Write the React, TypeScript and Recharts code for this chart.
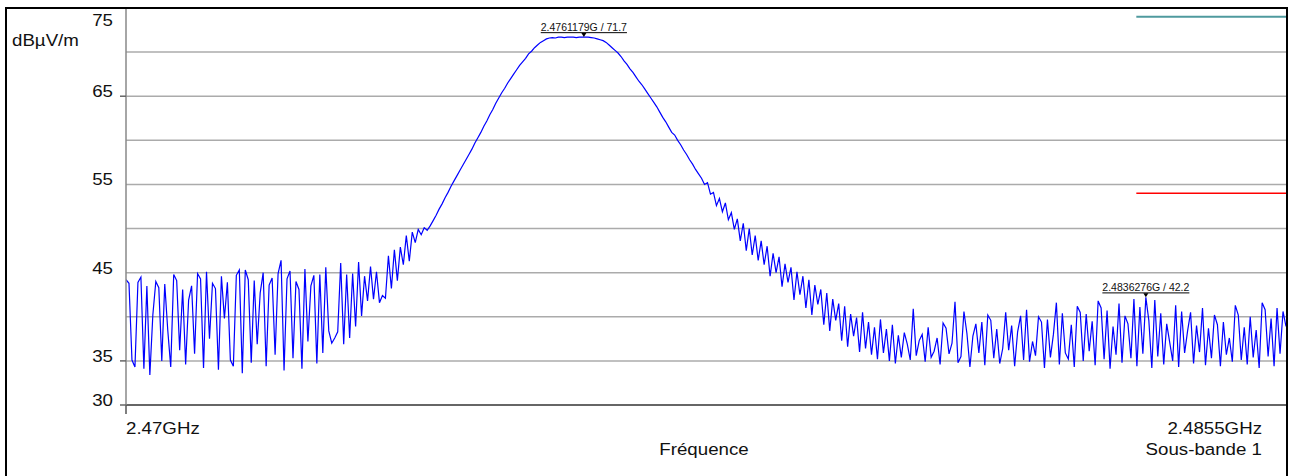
import React from 'react';
import {
  LineChart,
  Line,
  XAxis,
  YAxis,
  CartesianGrid,
  ReferenceLine,
  ReferenceDot
} from 'recharts';

// sweep 2.47 .. 2.4855 GHz, one level per trace point (dBµV/m)
const SWEEP_START = 2.47;
const SWEEP_STOP = 2.4855;

const floorLow = [
  44.2, 43.8, 35.1, 34.3, 43.9, 44.5, 34.1, 43.5, 33.4, 40.2, 44.0, 43.3, 35.0, 43.7, 38.5, 34.3, 44.8, 44.1, 36.2, 43.1,
  34.6, 41.9, 43.5, 35.8, 44.9, 44.3, 34.2, 45.1, 37.5, 43.8, 43.2, 34.0, 44.6, 39.8, 43.9, 35.1, 34.4, 44.7, 45.3, 33.6,
  45.3, 44.2, 34.8, 44.1, 36.9, 42.7, 45.0, 34.4, 43.6, 44.4, 35.7, 44.9, 46.4, 33.9, 44.3, 45.2, 35.3, 44.0, 43.1, 34.1,
  45.4, 37.2, 43.5, 44.7, 34.7, 44.8, 35.9, 45.6, 38.4, 37.0, 37.6, 38.3
];

const shoulderLeft = [
  46.1, 36.9, 44.8, 37.6, 44.9, 38.9, 46.2, 40.1, 44.6, 41.8, 45.7, 42.0, 45.1, 41.6, 42.4, 42.1,
  46.9, 43.2, 47.6, 44.1, 47.9, 45.9, 49.2, 46.3, 49.6, 48.4, 49.9, 49.3, 50.1, 49.8
];

const mainLobe = [
  50.3, 50.9, 51.5, 52.2, 52.8, 53.5, 54.1, 54.8, 55.4, 56.0, 56.6, 57.2, 57.8, 58.4, 59.0, 59.7, 60.3, 60.9, 61.6, 62.2,
  62.9, 63.5, 64.2, 64.8, 65.4, 65.9, 66.5, 67.0, 67.5, 68.0, 68.5, 68.9, 69.3, 69.8, 70.1, 70.5, 70.8, 71.1, 71.3, 71.5,
  71.6, 71.65, 71.6, 71.7, 71.7, 71.65, 71.7, 71.7, 71.7, 71.65, 71.7, 71.7, 71.7, 71.7, 71.65, 71.6, 71.5, 71.4,
  71.3, 71.1, 70.8, 70.5, 70.2, 69.9, 69.5, 69.0, 68.6, 68.1, 67.7, 67.2, 66.7, 66.3, 65.8, 65.3, 64.8, 64.3, 63.8, 63.2,
  62.6, 62.1, 61.5, 60.9, 60.6, 60.0, 59.5, 58.9, 58.4, 57.8, 57.3, 56.7, 56.2, 55.7, 55.0
];

const shoulderRight = [
  55.2, 53.9, 54.1, 52.6, 53.4, 51.9, 52.9, 51.0, 51.8, 49.9,
  51.1, 48.6, 50.6, 47.5, 50.0, 47.0, 49.2, 46.4, 48.6, 45.9,
  48.0, 44.6, 47.2, 45.0, 46.8, 43.4, 46.0, 43.9, 45.6, 41.9,
  45.1, 42.5, 44.6, 41.0, 44.2, 40.2, 43.6, 41.4, 43.1, 39.1,
  42.7, 38.4, 42.0, 39.6, 41.5, 37.3, 41.2, 36.6, 40.3, 37.8,
  39.9, 36.0, 40.5, 36.4, 39.4, 35.7, 38.8, 35.2, 39.7, 35.9,
  38.6, 35.0, 39.1, 34.7, 37.9, 35.4
];

const floorHigh = [
  38.2, 36.9, 35.1, 40.9, 35.6, 37.3, 38.0, 34.9, 38.8, 35.4, 36.1, 37.6, 34.6, 39.3, 38.7, 35.8, 37.0, 41.7, 34.8, 35.5,
  40.6, 38.1, 34.3, 37.8, 39.2, 35.9, 39.4, 34.5, 40.2, 39.6, 35.3, 38.6, 34.7, 36.4, 40.5, 36.2, 39.0, 34.4, 38.3, 40.1,
  35.1, 40.8, 34.9, 37.2, 35.6, 40.0, 39.4, 34.2, 39.7, 35.4, 38.0, 41.6, 34.6, 40.4, 35.9, 35.2, 39.1, 34.3, 41.2, 40.5,
  35.0, 40.3, 36.1, 39.5, 34.5, 41.8, 41.0, 35.2, 40.7, 34.1, 38.9, 35.7, 41.5, 34.8, 40.1, 39.2, 35.3, 42.0, 34.4, 41.1,
  35.8, 42.2, 39.6, 34.2, 41.9, 35.5, 40.4, 34.6, 39.2, 37.1, 35.0, 41.3, 34.3, 40.6, 35.9, 38.4, 40.5, 34.7, 39.0, 36.0,
  41.0, 34.5, 38.7, 35.3, 40.2, 39.1, 34.4, 39.4, 35.7, 37.6, 34.9, 41.3, 40.2, 35.1, 38.8, 34.6, 40.0, 35.4, 38.5, 34.2,
  41.6, 40.8, 35.5, 39.8, 34.4, 41.0, 35.8, 40.6, 38.9
];

const Y_TICKS = [30, 35, 40, 45, 50, 55, 60, 65, 70, 75];
const Y_LABELS = [75, 65, 55, 45, 35, 30];
const Y_TICK_MARKS = [65, 35, 30];
const X_TICKS = [2.47, 2.4855];
const X_TICK_LABELS = ['2.47GHz', '2.4855GHz'];

const MARKER_FREQS = [2.4761179, 2.4836276];
const MARKER_LEVELS = [71.7, 42.2];

// limit lines over the restricted band above 2483.5 MHz
const LIMIT_START = 2.4835;
const LIMIT_LEVELS = [74, 54];

const levels = [...floorLow, ...shoulderLeft, ...mainLobe, ...shoulderRight, ...floorHigh];
const data = levels.map((level, i) => ({
  freq: SWEEP_START + (i * (SWEEP_STOP - SWEEP_START)) / (levels.length - 1),
  level
}));

const FONT = '"Liberation Sans", Arial, sans-serif';

// the analyser font is a little wider than Arial
const Txt = ({ x, y, anchor = 'start', children }: any) => (
  <text
    transform={`translate(${x},${y}) scale(1.1,1)`}
    textAnchor={anchor}
    fontFamily={FONT}
    fontSize={17}
    fill="#111"
  >
    {children}
  </text>
);

const YTick = (props: any) => {
  const { x, y, payload } = props;
  const v = payload.value;
  const ty = v === 75 ? y + 17 : y + 1;
  return (
    <g>
      {Y_TICK_MARKS.includes(v) && <line x1={x - 6} x2={x} y1={y} y2={y} stroke="#666" strokeWidth={1.5} />}
      {Y_LABELS.includes(v) && (
        <Txt x={x - 13} y={ty} anchor="end">
          {v}
        </Txt>
      )}
    </g>
  );
};

const XTick = (props: any) => {
  const { x, y, index } = props;
  if (index === 0) {
    return (
      <g>
        <line x1={x} x2={x} y1={y} y2={y + 9} stroke="#555" strokeWidth={1.5} />
        <Txt x={x} y={y + 29}>{X_TICK_LABELS[0]}</Txt>
      </g>
    );
  }
  return (
    <g>
      <Txt x={x - 5} y={y + 29} anchor="end">{X_TICK_LABELS[1]}</Txt>
      <Txt x={x - 5} y={y + 50} anchor="end">Sous-bande 1</Txt>
    </g>
  );
};

const markerShape = (text: string) => (props: any) => {
  const { cx, cy } = props;
  return (
    <g>
      <text
        x={cx}
        y={cy - 6}
        textAnchor="middle"
        fontFamily={FONT}
        fontSize={10.5}
        fill="#111"
        textDecoration="underline"
      >
        {text}
      </text>
      <path d={`M${cx - 2.5},${cy - 4} L${cx + 2.5},${cy - 4} L${cx},${cy} Z`} fill="#000" />
    </g>
  );
};

export default function App() {
  return (
    <div style={{ position: 'absolute', left: 0, top: 0, width: 1289, height: 476, overflow: 'hidden', background: '#fff' }}>
      <LineChart width={1289} height={476} data={data} margin={{ top: 8, right: 3, bottom: 0, left: 0 }}>
        <CartesianGrid vertical={false} stroke="#ababab" strokeWidth={1.5} />
        <XAxis
          dataKey="freq"
          type="number"
          domain={[SWEEP_START, SWEEP_STOP]}
          ticks={X_TICKS}
          height={71}
          tickSize={0}
          tickMargin={0}
          tickLine={false}
          tick={<XTick />}
          axisLine={{ stroke: '#666', strokeWidth: 2 }}
          allowDataOverflow
          label={(p: any) => {
            const vb = p.viewBox || { x: 126, y: 405, width: 1160 };
            return (
              <Txt x={vb.x + vb.width / 2 - 2} y={vb.y + 50} anchor="middle">
                Fréquence
              </Txt>
            );
          }}
        />
        <YAxis
          type="number"
          domain={[30, 75]}
          ticks={Y_TICKS}
          width={126}
          tickSize={0}
          tickMargin={0}
          tickLine={false}
          tick={<YTick />}
          axisLine={{ stroke: '#888', strokeWidth: 1.5 }}
          allowDataOverflow
          label={(p: any) => {
            const vb = p.viewBox || { x: 0, y: 8 };
            return (
              <Txt x={vb.x + 12} y={vb.y + 38}>
                dBµV/m
              </Txt>
            );
          }}
        />
        <ReferenceLine
          segment={[{ x: LIMIT_START, y: LIMIT_LEVELS[0] }, { x: SWEEP_STOP, y: LIMIT_LEVELS[0] }]}
          stroke="#4f9a9e"
          strokeWidth={2}
        />
        <ReferenceLine
          segment={[{ x: LIMIT_START, y: LIMIT_LEVELS[1] }, { x: SWEEP_STOP, y: LIMIT_LEVELS[1] }]}
          stroke="#ff0000"
          strokeWidth={1.5}
        />
        <Line
          type="linear"
          dataKey="level"
          stroke="#0000ff"
          strokeWidth={1.2}
          dot={false}
          isAnimationActive={false}
        />
        {MARKER_FREQS.map((f, i) => (
          <ReferenceDot
            key={f}
            x={f}
            y={MARKER_LEVELS[i]}
            r={3}
            shape={markerShape(`${f}G / ${MARKER_LEVELS[i]}`)}
          />
        ))}
      </LineChart>
      <div
        style={{
          position: 'absolute',
          left: 5,
          top: 7,
          width: 1283,
          height: 480,
          boxSizing: 'border-box',
          borderTop: '2px solid #000',
          borderLeft: '2px solid #000',
          borderRight: '2px solid #000',
          pointerEvents: 'none'
        }}
      />
    </div>
  );
}
